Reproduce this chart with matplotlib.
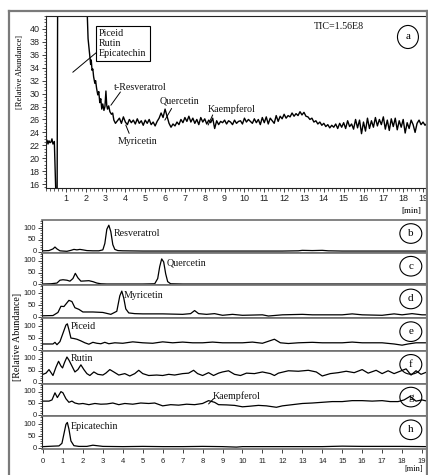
import matplotlib
matplotlib.use('Agg')
import matplotlib.pyplot as plt
import numpy as np
from matplotlib.patches import Ellipse
from matplotlib.lines import Line2D
from matplotlib.ticker import MultipleLocator

# ---------------- data ----------------
# (a) total ion chromatogram
tic_t_early = [0.0, 0.05, 0.1, 0.15, 0.2, 0.25, 0.3, 0.35, 0.42, 0.5, 0.56, 0.6, 1.0, 1.5, 2.05,
               2.12, 2.2, 2.25, 2.28, 2.32, 2.36, 2.4, 2.46, 2.5, 2.55, 2.61, 2.66, 2.71, 2.76,
               2.81, 2.86, 2.92, 2.97, 3.02, 3.06, 3.1, 3.16, 3.22, 3.3, 3.36, 3.42, 3.5]
tic_v_early = [22.3, 22.8, 22.2, 22.7, 22.4, 22.5, 23.0, 22.2, 22.6, 14.0, 14.0, 60.0, 60.0, 60.0, 45.0,
               38.5, 36.0, 34.5, 35.2, 33.6, 33.8, 32.6, 31.6, 32.0, 30.8, 29.8, 30.3, 28.6, 29.2,
               27.6, 28.4, 27.4, 28.0, 30.4, 28.2, 27.6, 28.1, 27.2, 26.8, 27.0, 25.9, 25.4]
tic_v_late = [25.8, 26.2, 25.4, 26.4, 25.6, 25.2, 26.0, 25.5, 25.9, 25.3,
              26.1, 25.4, 25.8, 25.1, 25.9, 25.4, 26.0, 25.2, 25.6, 25.0,
              25.7, 26.2, 27.0, 26.3, 27.6, 26.5, 25.4, 24.8, 25.3, 25.0,
              25.6, 25.2, 26.0, 25.5, 26.3, 25.7, 26.5, 25.6, 26.2, 25.4,
              26.0, 25.2, 26.3, 25.6, 26.1, 25.3, 25.9, 25.5, 26.2, 24.6,
              25.8, 25.2, 25.7, 25.5, 25.9, 25.3, 25.8, 25.6, 25.2, 25.9,
              25.4, 25.7, 25.8, 25.3, 26.2, 25.6, 26.0, 25.7, 25.4, 26.1,
              25.5, 26.0, 25.2, 26.3, 25.5, 26.4, 25.3, 26.2, 25.8, 25.4,
              26.6, 25.7, 26.5, 26.1, 26.8, 26.2, 26.6, 26.4, 27.0, 26.5,
              26.9, 26.6, 27.2, 26.7, 27.1, 26.5, 26.4, 26.0, 26.2, 25.6,
              25.8, 25.3, 25.6, 25.1, 25.4, 24.9, 25.2, 24.7, 25.1, 24.8,
              25.3, 24.6, 25.4, 24.8, 25.5, 24.6, 25.8, 24.9, 25.3, 24.5,
              26.0, 24.7, 25.9, 23.8, 25.6, 24.2, 26.2, 24.6, 25.8, 24.8,
              26.3, 25.0, 26.0, 25.2, 26.4, 24.5, 25.9, 24.3, 26.1, 24.9,
              26.2, 24.4, 25.8, 24.8, 26.0, 23.9, 25.5, 24.6, 25.9, 25.2,
              24.0, 25.4, 25.9, 25.2, 25.6, 25.1, 25.4]
tic_late_start, tic_late_end = 3.6, 19.2

# (b)-(h) extracted ion chromatograms
res_t = [0, 0.3, 0.5, 0.6, 0.7, 0.85, 1.0, 1.2, 1.4, 1.55, 1.7, 1.85, 2.0, 2.2, 2.5, 2.8, 3.0, 3.1, 3.2,
         3.3, 3.4, 3.5, 3.6, 3.75, 4.0, 5.0, 6.0, 7.0, 8.0, 9.0, 10.0, 11.0, 12.0, 12.8, 13.0, 13.5,
         14.0, 14.3, 15.0, 16.0, 17.0, 18.0, 19.0, 19.25]
res_v = [4, 5, 12, 20, 12, 4, 3, 2, 6, 10, 8, 10, 8, 5, 4, 4, 8, 35, 95,
         112, 85, 30, 10, 5, 4, 3, 3, 3, 3, 3, 3, 3, 3, 4, 6, 5,
         6, 4, 3, 3, 3, 3, 3, 3]

que_t = [0, 0.4, 0.7, 0.85, 1.0, 1.2, 1.35, 1.5, 1.62, 1.75, 1.9, 2.1, 2.3, 2.5, 2.7, 2.9, 3.2, 4, 5,
         5.6, 5.75, 5.85, 5.95, 6.05, 6.15, 6.25, 6.4, 7, 8, 9, 10, 12, 14, 16, 18, 19.25]
que_v = [2, 3, 6, 18, 20, 18, 14, 25, 47, 28, 14, 15, 16, 12, 6, 3, 2, 2, 2,
         3, 25, 75, 108, 95, 45, 12, 3, 2, 2, 2, 2, 2, 2, 2, 2, 2]

myr_t = [0, 0.5, 0.75, 0.9, 1.05, 1.3, 1.45, 1.6, 1.8, 2.0, 2.5, 3.0, 3.4, 3.7, 3.85, 3.95, 4.05,
         4.15, 4.3, 4.6, 5.0, 6.0, 7.0, 7.4, 7.6, 7.8, 8.2, 8.6, 9.0, 9.5, 10.0, 11.0, 11.3, 12.0,
         13.0, 13.5, 15.0, 15.5, 16.0, 17.0, 17.6, 18.0, 18.5, 19.0, 19.25]
myr_v = [6, 7, 20, 46, 45, 71, 66, 40, 33, 22, 22, 20, 12, 25, 90, 110, 80,
         35, 18, 15, 14, 14, 12, 15, 28, 15, 12, 15, 8, 12, 8, 10, 5, 10,
         12, 10, 10, 14, 10, 8, 14, 10, 15, 10, 10]

pic_t = [0, 0.5, 0.6, 0.7, 0.85, 1.0, 1.15, 1.22, 1.3, 1.4, 1.55, 1.7, 1.9, 2.1, 2.3, 2.5, 2.7, 2.9,
         3.1, 3.3, 3.6, 4.0, 4.5, 5.0, 5.5, 6.0, 6.5, 7.0, 7.5, 8.0, 8.5, 9.0, 10.0, 10.5, 11.0,
         11.6, 11.9, 12.3, 12.8, 13.5, 14.0, 15.0, 15.5, 16.0, 17.0, 17.6, 18.0, 18.3, 18.7, 19.25]
pic_v = [25, 25, 32, 22, 35, 70, 105, 110, 85, 50, 48, 45, 38, 30, 24, 32, 28, 26,
         32, 26, 30, 28, 34, 30, 28, 34, 30, 33, 30, 30, 33, 30, 30, 33, 28,
         45, 30, 27, 30, 32, 30, 30, 33, 30, 30, 25, 20, 25, 30, 30]

rut_t = [0, 0.15, 0.3, 0.5, 0.65, 0.78, 0.9, 0.98, 1.08, 1.2, 1.3, 1.45, 1.6, 1.75, 1.9, 2.05, 2.2,
         2.35, 2.55, 2.75, 3.0, 3.15, 3.35, 3.55, 3.8, 4.1, 4.35, 4.6, 4.8, 5.0, 5.3, 5.7, 6.0,
         6.3, 6.6, 7.0, 7.3, 7.55, 7.75, 8.0, 8.3, 8.55, 8.8, 9.0, 9.3, 9.6, 9.9, 10.2, 10.6,
         11.0, 11.4, 11.6, 11.8, 12.3, 12.8, 13.3, 13.7, 14.0, 14.4, 14.8, 15.2, 15.6, 16.0,
         16.3, 16.7, 17.0, 17.3, 17.6, 17.9, 18.2, 18.45, 18.7, 18.95, 19.25]
rut_v = [35, 40, 55, 30, 65, 90, 70, 62, 85, 108, 95, 70, 45, 55, 75, 55, 38,
         30, 45, 35, 32, 40, 55, 45, 32, 38, 28, 38, 52, 38, 30, 32, 30,
         35, 32, 38, 40, 52, 38, 30, 42, 30, 40, 45, 50, 35, 30, 40, 38,
         45, 38, 30, 40, 50, 48, 52, 45, 28, 38, 42, 48, 42, 55,
         40, 52, 38, 50, 38, 48, 58, 32, 50, 35, 45]

kae_t = [0, 0.3, 0.45, 0.6, 0.72, 0.9, 1.0, 1.15, 1.3, 1.45, 1.6, 1.8, 2.0, 2.3, 2.6, 2.9, 3.2,
         3.5, 3.8, 4.1, 4.5, 4.9, 5.3, 5.6, 6.0, 6.4, 6.8, 7.2, 7.6, 8.0, 8.3, 8.6, 8.8, 9.2,
         9.6, 10.0, 10.3, 10.8, 11.2, 11.7, 12.0, 12.5, 13.0, 13.5, 14.0, 14.5, 15.0, 15.5,
         16.0, 16.5, 17.0, 17.4, 17.8, 18.1, 18.4, 18.7, 19.0, 19.25]
kae_v = [60, 60, 65, 95, 75, 100, 95, 70, 55, 60, 52, 48, 50, 45, 50, 47, 48,
         52, 45, 50, 47, 52, 50, 52, 40, 45, 43, 47, 45, 50, 62, 55, 45, 44,
         42, 36, 38, 42, 40, 34, 40, 45, 50, 52, 55, 58, 58, 62,
         62, 60, 62, 58, 58, 65, 80, 60, 65, 60]

epi_t = [0, 0.5, 0.8, 0.95, 1.05, 1.15, 1.22, 1.3, 1.4, 1.55, 1.8, 2.2, 2.5, 2.7, 3.0, 4, 5, 6, 7,
         8, 9, 9.7, 10, 12, 14, 15, 16, 18, 19.25]
epi_v = [6, 8, 9, 20, 60, 100, 108, 80, 30, 10, 7, 7, 12, 10, 7, 6, 7, 6, 6,
         7, 6, 4, 6, 6, 6, 8, 7, 7, 6]

panel_names = ['Resveratrol', 'Quercetin', 'Myricetin', 'Piceid', 'Rutin', 'Kaempferol', 'Epicatechin']
panel_letters = ['b', 'c', 'd', 'e', 'f', 'g', 'h']
panel_times = [res_t, que_t, myr_t, pic_t, rut_t, kae_t, epi_t]
panel_values = [res_v, que_v, myr_v, pic_v, rut_v, kae_v, epi_v]
top_x_ticks = list(range(1, 20))
top_y_ticks = list(range(16, 41, 2))
bot_x_ticks = list(range(0, 20))
bot_y_ticks = [0, 50, 100]

# ---------------- layout ----------------
W, H = 428, 475
SERIF = ['Liberation Serif', 'DejaVu Serif']
SANS = ['Liberation Sans', 'DejaVu Sans']
plt.rcParams['font.family'] = SANS

fig = plt.figure(figsize=(W / 100, H / 100), dpi=100)
fig.patch.set_facecolor('white')

def fx(px):
    return px / W

def fy(py):
    return 1 - py / H

# outer frame (left, top, right)
frame_kw = dict(color='#7a7a7a', lw=1.6, transform=fig.transFigure)
fig.add_artist(Line2D([fx(9), fx(9)], [fy(11), fy(476)], **frame_kw))
fig.add_artist(Line2D([fx(9), fx(427)], [fy(11), fy(11)], **frame_kw))
fig.add_artist(Line2D([fx(427), fx(427)], [fy(11), fy(476)], **frame_kw))

# ---- top panel (a) ----
ax = fig.add_axes([fx(46), fy(188), (427 - 46) / W, (188 - 16) / H])
tic_t = list(tic_t_early) + list(np.linspace(tic_late_start, tic_late_end, len(tic_v_late)))
tic_v = list(tic_v_early) + list(tic_v_late)
ax.plot(tic_t, tic_v, color='black', lw=1.0)
ax.set_xlim(0, 19.2)
ax.set_ylim(15.4, 42.0)
ax.set_xticks(top_x_ticks)
ax.set_yticks(top_y_ticks)
ax.xaxis.set_minor_locator(MultipleLocator(0.2))
ax.yaxis.set_minor_locator(MultipleLocator(0.5))
ax.tick_params(which='major', direction='out', length=3, width=0.6, labelsize=6.5, pad=1.5,
               colors='#222222')
ax.tick_params(which='minor', direction='out', length=1.8, width=0.5, colors='#222222')
for s in ax.spines.values():
    s.set_linewidth(0.8)
    s.set_color('#222222')

txt_kw = dict(family=SERIF, fontsize=7.2, color='#111111')
ax.text(2.68, 37.8, 'Piceid\nRutin\nEpicatechin', ha='left', va='center', linespacing=1.15,
        bbox=dict(boxstyle='square,pad=0.3', fc='white', ec='black', lw=0.8), **txt_kw)
ln_kw = dict(arrowprops=dict(arrowstyle='-', lw=0.7, color='black', shrinkA=0, shrinkB=0))
ax.annotate('', xy=(1.35, 33.3), xytext=(2.52, 36.3), **ln_kw)
ax.text(3.42, 31.0, 't-Resveratrol', ha='left', va='center', **txt_kw)
ax.annotate('', xy=(3.27, 28.2), xytext=(3.75, 30.25), **ln_kw)
ax.text(3.6, 22.66, 'Myricetin', ha='left', va='center', **txt_kw)
ax.annotate('', xy=(4.02, 25.14), xytext=(4.19, 23.85), **ln_kw)
ax.text(5.74, 28.85, 'Quercetin', ha='left', va='center', **txt_kw)
ax.annotate('', xy=(5.99, 25.9), xytext=(6.33, 27.7), **ln_kw)
ax.text(8.17, 27.6, 'Kaempferol', ha='left', va='center', **txt_kw)
ax.annotate('', xy=(8.17, 25.14), xytext=(8.4, 26.7), **ln_kw)
ax.text(14.78, 40.3, 'TIC=1.56E8', ha='center', va='center', **txt_kw)
ax.add_patch(Ellipse((0.950, 0.878), 0.055, 0.134, transform=ax.transAxes, fill=False,
                     lw=0.8, ec='black', clip_on=False))
ax.text(0.950, 0.878, 'a', transform=ax.transAxes, ha='center', va='center',
        family=SERIF, fontsize=8)

fig.text(fx(411), fy(211), '[min]', ha='center', va='center', family=SERIF, fontsize=6.5)
fig.text(fx(20), fy(72), '[Relative Abundance]', rotation=90, ha='center', va='center',
         family=SERIF, fontsize=6)

# ---- bottom panels (b)-(h) ----
top0, bot0 = 220.0, 449.0
ph = (bot0 - top0) / 7
label_pos = [(3.56, 0.593), (6.2, 0.676), (4.07, 0.706), (1.40, 0.737),
             (1.40, 0.77), (8.52, 0.62), (1.40, 0.68)]
for i in range(7):
    ptop = top0 + i * ph
    axb = fig.add_axes([fx(42), fy(ptop + ph), (427 - 42) / W, ph / H])
    axb.plot(panel_times[i], panel_values[i], color='black', lw=0.9)
    axb.set_xlim(-0.05, 19.25)
    axb.set_ylim(-4, 134)
    axb.set_yticks(bot_y_ticks)
    axb.yaxis.set_minor_locator(MultipleLocator(10))
    axb.tick_params(axis='y', which='major', direction='out', length=3, width=0.6,
                    labelsize=5.5, pad=1, colors='#222222')
    axb.tick_params(axis='y', which='minor', direction='out', length=1.8, width=0.5,
                    colors='#222222')
    for lab in axb.get_yticklabels():
        lab.set_verticalalignment('center')
    if i < 6:
        axb.tick_params(axis='x', which='both', bottom=False, labelbottom=False)
    else:
        axb.set_xticks(bot_x_ticks)
        axb.tick_params(axis='x', which='major', direction='out', length=3, width=0.6,
                        labelsize=5.5, pad=3.5, colors='#222222')
    for k in ['top', 'bottom', 'right']:
        axb.spines[k].set_color('#6e6e6e')
        axb.spines[k].set_linewidth(1.2)
    axb.spines['left'].set_color('#222222')
    axb.spines['left'].set_linewidth(0.8)
    lx, ly = label_pos[i]
    axb.text(lx, ly, panel_names[i], transform=axb.get_xaxis_transform(), ha='left',
             va='center', **txt_kw)
    if panel_names[i] == 'Kaempferol':
        axb.annotate('', xy=(8.3, 48), xytext=(8.55, 70), **ln_kw)
    axb.add_patch(Ellipse((0.958, 0.587), 0.057, 0.60, transform=axb.transAxes, fill=False,
                          lw=0.8, ec='black', clip_on=False))
    axb.text(0.958, 0.587, panel_letters[i], transform=axb.transAxes, ha='center',
             va='center', family=SERIF, fontsize=8)

fig.text(fx(414), fy(469), '[min]', ha='center', va='center', family=SERIF, fontsize=6)
fig.text(fx(18), fy(337), '[Relative Abundance]', rotation=90, ha='center', va='center',
         family=SERIF, fontsize=7.2)

fig.savefig('out.png', dpi=100, facecolor='white')
